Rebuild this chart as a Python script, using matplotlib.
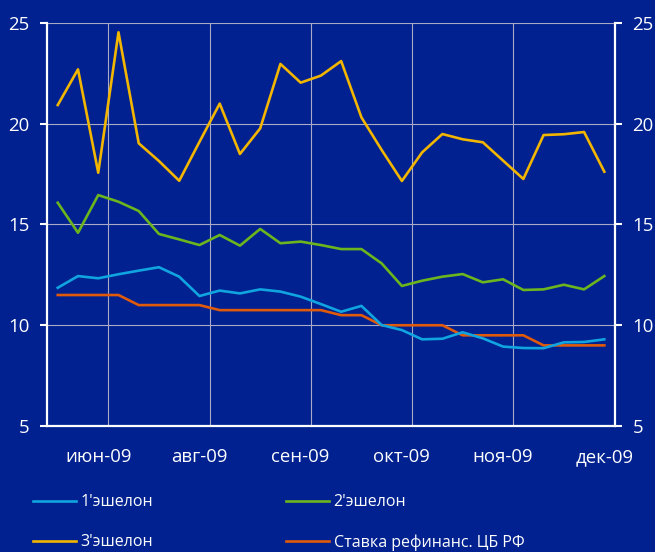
import matplotlib.pyplot as plt
import numpy as np

plt.rcParams['font.family'] = ['Open Sans', 'DejaVu Sans']

# weekly observations, jun-09 .. dec-09
n_weeks = 28
month_labels = ['июн-09', 'авг-09', 'сен-09', 'окт-09', 'ноя-09', 'дек-09']
label_idx = [2, 7, 12, 17, 22, 27]
grid_idx = [2.5, 7.5, 12.5, 17.5, 22.5]

ech1 = [11.86, 12.44, 12.33, 12.53, 12.71, 12.88, 12.41, 11.45, 11.72, 11.58,
        11.78, 11.67, 11.42, 11.05, 10.67, 10.96, 10.01, 9.76, 9.30, 9.33,
        9.65, 9.35, 8.94, 8.87, 8.86, 9.15, 9.17, 9.30]
ech2 = [16.08, 14.59, 16.46, 16.13, 15.67, 14.53, 14.26, 13.98, 14.48, 13.95,
        14.78, 14.07, 14.15, 13.98, 13.78, 13.78, 13.07, 11.95, 12.21, 12.41,
        12.54, 12.13, 12.28, 11.75, 11.78, 12.01, 11.78, 12.44]
ech3 = [20.93, 22.70, 17.57, 24.54, 19.03, 18.15, 17.17, 19.10, 21.00, 18.50,
        19.77, 22.97, 22.04, 22.39, 23.11, 20.32, 18.70, 17.16, 18.58, 19.49,
        19.23, 19.08, 18.17, 17.26, 19.44, 19.48, 19.59, 17.62]
refi = [11.5, 11.5, 11.5, 11.5, 11.0, 11.0, 11.0, 11.0, 10.75, 10.75,
        10.75, 10.75, 10.75, 10.75, 10.5, 10.5, 10.0, 10.0, 10.0, 10.0,
        9.5, 9.5, 9.5, 9.5, 9.0, 9.0, 9.0, 9.0]

bg = '#00218f'
x = np.arange(n_weeks)

fig = plt.figure(figsize=(6.55, 5.52), dpi=100, facecolor=bg)
ax = fig.add_axes([0.0718, 0.2283, 0.8672, 0.7300], facecolor=bg)

lw = 1.9
l1, = ax.plot(x, ech1, color='#10a4e0', lw=lw, label="1'эшелон", zorder=3)
l2, = ax.plot(x, ech2, color='#6db51e', lw=lw, label="2'эшелон", zorder=3)
l3, = ax.plot(x, ech3, color='#f2b500', lw=lw, label="3'эшелон", zorder=3)
l4, = ax.plot(x, refi, color='#e05a0c', lw=lw, label='Ставка рефинанс. ЦБ РФ', zorder=2.5)

ax.set_xlim(-0.53, 27.53)
ax.set_ylim(5, 25)
ax.set_yticks([5, 10, 15, 20, 25])

# grid
for g in grid_idx:
    ax.axvline(g, color='#a8aac8', lw=0.8, zorder=1)
for v in [10, 15, 20, 25]:
    ax.axhline(v, color='#a8aac8', lw=0.8, zorder=1)

ax.set_xticks(label_idx)
ax.set_xticklabels(month_labels)
ax.tick_params(axis='x', length=0, pad=16, labelsize=13.4, colors='white')
ax.tick_params(axis='y', length=5, width=1.5, pad=7.5, labelsize=13.4,
               colors='white', direction='out', right=True, labelright=True)

for s in ['left', 'right', 'bottom']:
    ax.spines[s].set_color('white')
    ax.spines[s].set_linewidth(1.6)
ax.spines['top'].set_visible(False)

leg = fig.legend([l1, l3, l2, l4], [l1.get_label(), l3.get_label(), l2.get_label(), l4.get_label()],
                 ncol=2, loc='lower left', bbox_to_anchor=(0.028, -0.024), frameon=False,
                 fontsize=11.5, handlelength=2.7, handletextpad=0.3,
                 columnspacing=8.3, labelspacing=1.5)
for t in leg.get_texts():
    t.set_color('white')

fig.savefig('out.png', dpi=100, facecolor=bg)
